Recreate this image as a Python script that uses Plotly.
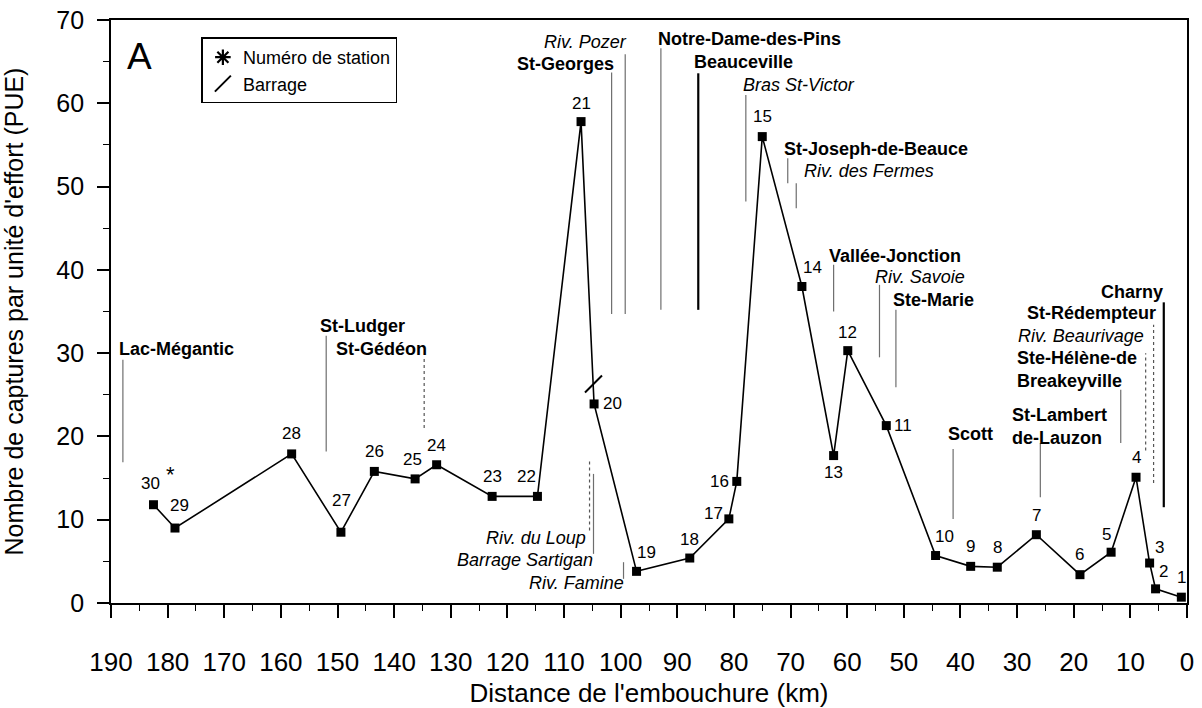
import plotly.graph_objects as go

# ---------------- data ----------------
station = [30, 29, 28, 27, 26, 25, 24, 23, 22, 21, 20, 19, 18, 17, 16,
           15, 14, 13, 12, 11, 10, 9, 8, 7, 6, 5, 4, 3, 2, 1]
distance_km = [182.5, 178.7, 158.1, 149.4, 143.5, 136.3, 132.5, 122.7, 114.7, 107.0,
               104.7, 97.2, 87.8, 80.9, 79.5, 75.0, 68.0, 62.4, 59.9, 53.1,
               44.4, 38.2, 33.5, 26.6, 18.9, 13.4, 9.0, 6.6, 5.55, 1.0]
pue = [11.8, 9.0, 17.9, 8.5, 15.8, 14.9, 16.6, 12.8, 12.8, 57.8,
       23.9, 3.8, 5.4, 10.1, 14.6, 56.0, 38.0, 17.7, 30.3, 21.3,
       5.7, 4.4, 4.3, 8.2, 3.4, 6.1, 15.1, 4.8, 1.7, 0.7]

dam_km = [104.8]
dam_pue = [26.3]

place_name = ["Lac-Mégantic", "St-Ludger", "St-Gédéon", "Riv. du Loup", "Barrage Sartigan",
              "Riv. Famine", "St-Georges", "Riv. Pozer", "Notre-Dame-des-Pins", "Beauceville",
              "Bras St-Victor", "St-Joseph-de-Beauce", "Riv. des Fermes", "Vallée-Jonction",
              "Riv. Savoie", "Ste-Marie", "Scott", "St-Lambert\nde-Lauzon",
              "Ste-Hélène-de\nBreakeyville", "Riv. Beaurivage", "St-Rédempteur", "Charny"]
place_km = [187.9, 152.0, 134.7, 105.5, 104.8, 99.5, 101.6, 99.2, 92.9, 86.3,
            77.9, 70.5, 69.0, 62.4, 54.3, 51.4, 41.3, 25.9, 11.7, 7.3, 5.9, 4.1]
place_kind = ["town", "town", "town", "river", "river", "river", "town", "river", "town", "town",
              "river", "town", "river", "town", "river", "town", "town", "town",
              "town", "river", "town", "town"]

x_ticks = list(range(0, 191, 10))
y_ticks = list(range(0, 71, 10))

# ---------------- layout helpers (positions / styles) ----------------
# station-number label offsets (px)
lab_off = {30: (-3, 21), 29: (5, 23), 28: (0, 20), 27: (1, 32), 26: (0, 20), 25: (-3, 19),
           24: (0, 19), 23: (0, 20), 22: (-11, 20), 21: (0, 18), 20: (18, 0), 19: (10, 19),
           18: (0, 19), 17: (-15, 5), 16: (-17, 0), 15: (0, 20), 14: (11, 19), 13: (0, -17),
           12: (0, 18), 11: (17, 0), 10: (9, 19), 9: (0, 20), 8: (0, 20), 7: (0, 19),
           6: (0, 20), 5: (-5, 18), 4: (0, 20), 3: (10, 16), 2: (8, 17), 1: (0, 20)}

# place line extents (y0, y1), line style, label anchor (x, y, xanchor)
place_lay = [
    (16.9, 29.2, "gray", 189.0, 30.5, "left"),
    (18.2, 32.1, "gray", 153.4, 33.3, "left"),
    (21.0, 29.5, "dot", 133.9, 30.5, "right"),
    (8.7, 17.3, "dot", 105.8, 7.8, "right"),
    (5.9, 15.5, "gray", 104.6, 5.2, "right"),
    (2.9, 4.9, "gray", 99.1, 2.4, "right"),
    (34.7, 63.7, "gray", 100.9, 64.7, "right"),
    (34.7, 65.9, "gray", 98.5, 67.3, "right"),
    (35.2, 66.6, "gray", 93.7, 67.7, "left"),
    (35.2, 63.6, "black", 87.4, 65.0, "left"),
    (48.2, 61.0, "gray", 78.8, 62.2, "left"),
    (50.4, 53.4, "gray", 71.6, 54.5, "left"),
    (47.4, 50.4, "gray", 68.0, 51.9, "left"),
    (35.0, 40.6, "gray", 63.5, 41.7, "left"),
    (29.5, 38.2, "gray", 55.5, 39.1, "left"),
    (25.9, 35.2, "gray", 52.3, 36.4, "left"),
    (10.1, 18.5, "gray", 42.6, 20.3, "left"),
    (12.7, 19.2, "gray", 31.3, 21.2, "left"),
    (19.2, 25.6, "gray", 30.3, 28.0, "left"),
    (18.3, 30.0, "dot", 7.2, 32.0, "right"),
    (14.4, 33.4, "dot", 5.2, 34.8, "right"),
    (11.5, 36.1, "black", 3.8, 37.4, "right"),
]

FONT = "Liberation Sans, Arial, sans-serif"
fig = go.Figure()

# place marker lines grouped by style
styles = {"gray": dict(color="#6e6e6e", width=1.2),
          "dot": dict(color="#555555", width=1.2, dash="dot"),
          "black": dict(color="black", width=2.2)}
for sname, sline in styles.items():
    xs, ys = [], []
    for km, lay in zip(place_km, place_lay):
        if lay[2] == sname:
            xs += [km, km, None]
            ys += [lay[0], lay[1], None]
    fig.add_trace(go.Scatter(x=xs, y=ys, mode="lines", line=sline,
                             showlegend=False, hoverinfo="skip"))

# station series
fig.add_trace(go.Scatter(x=distance_km, y=pue, mode="lines+markers",
                         line=dict(color="black", width=1.6),
                         marker=dict(symbol="square", size=9, color="black"),
                         showlegend=False))

# legend entries
fig.add_trace(go.Scatter(x=[None], y=[None], mode="markers", name="Numéro de station",
                         marker=dict(symbol="asterisk-open", size=13, color="black",
                                     line=dict(color="black", width=2.2))))
fig.add_trace(go.Scatter(x=dam_km, y=dam_pue, mode="markers", name="Barrage",
                         marker=dict(symbol="line-ne-open", size=17, color="black",
                                     line=dict(color="black", width=2))))

ann = []
for s, x, y in zip(station, distance_km, pue):
    dx, dy = lab_off[s]
    ann.append(dict(x=x, y=y, text=str(s), showarrow=False, xshift=dx, yshift=dy,
                    font=dict(size=17, color="black", family=FONT)))
# asterisk next to station 30
ann.append(dict(x=distance_km[0], y=pue[0], text="*", showarrow=False, xshift=17, yshift=30,
                font=dict(size=22, color="black", family=FONT)))

for name, kind, lay in zip(place_name, place_kind, place_lay):
    lines = name.split("\n")
    if kind == "town":
        txt = "<br>".join("<b>%s</b>" % ln for ln in lines)
    else:
        txt = "<br>".join("<i>%s</i>" % ln for ln in lines)
    ann.append(dict(x=lay[3], y=lay[4], text=txt, showarrow=False,
                    xanchor=lay[5], yanchor="middle", align=lay[5],
                    font=dict(size=18, color="black", family=FONT)))

ann.append(dict(x=184.9, y=65.6, text="A", showarrow=False,
                font=dict(size=37, color="black", family=FONT)))

fig.update_layout(
    width=1202, height=708,
    margin=dict(l=111, r=15, t=20, b=105, autoexpand=False),
    paper_bgcolor="white", plot_bgcolor="white",
    font=dict(family=FONT, color="black"),
    annotations=ann,
    legend=dict(x=0.084, y=0.97, xanchor="left", yanchor="top",
                bordercolor="black", borderwidth=1.5, bgcolor="white",
                font=dict(size=18, family=FONT), itemwidth=30, tracegroupgap=0),
)
fig.update_xaxes(range=[190, 0], tickvals=x_ticks, ticktext=[str(v) for v in x_ticks],
                 ticks="outside", ticklen=13, tickwidth=1.5, tickcolor="black",
                 minor=dict(dtick=5, ticks="outside", ticklen=6, tickwidth=1.2, tickcolor="black"),
                 showline=True, linecolor="black", linewidth=1.8, mirror=True,
                 showgrid=False, zeroline=False, automargin=False,
                 tickfont=dict(size=26, family=FONT), ticklabelstandoff=22,
                 title=dict(text="Distance de l'embouchure (km)", font=dict(size=26, family=FONT),
                            standoff=10))
fig.update_yaxes(range=[0, 70], tickvals=y_ticks, ticktext=[str(v) for v in y_ticks],
                 ticks="outside", ticklen=12, tickwidth=1.5, tickcolor="black",
                 minor=dict(dtick=5, ticks="outside", ticklen=6, tickwidth=1.2, tickcolor="black"),
                 showline=True, linecolor="black", linewidth=1.8, mirror=True,
                 showgrid=False, zeroline=False, automargin=False,
                 tickfont=dict(size=25, family=FONT), ticklabelstandoff=8,
                 title=dict(text="Nombre de captures par unité d'effort (PUE)",
                            font=dict(size=25, family=FONT), standoff=26))

fig.write_html("out.html")
